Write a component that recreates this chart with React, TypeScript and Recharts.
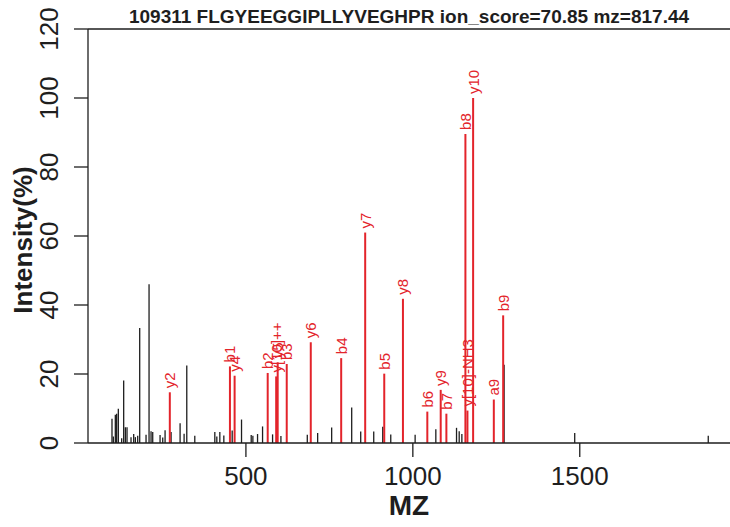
import { ComposedChart, Bar, XAxis, YAxis, ReferenceLine, LabelList } from 'recharts';

const TITLE = '109311 FLGYEEGGIPLLYVEGHPR ion_score=70.85 mz=817.44';

// unmatched peaks (black)
const PEAK_MZ = [
  99, 103, 109, 113, 118, 128, 134, 139, 144, 156, 164, 169, 176, 182, 201, 210, 216, 221,
  243, 251, 258, 276, 303, 315, 323, 347, 407, 413, 422, 434, 459, 487, 516, 521, 535, 550,
  580, 605, 684, 715, 757, 817, 844, 883, 910, 934, 1007, 1069, 1131, 1139, 1147, 1273.5, 1485, 1885,
];
const PEAK_INTENSITY = [
  7.0, 1.9, 8.2, 8.5, 9.9, 1.4, 18.1, 4.6, 4.6, 1.7, 2.6, 1.7, 2.1, 33.3, 2.4, 46.0, 3.4, 3.2,
  2.3, 1.6, 3.7, 3.2, 5.7, 2.7, 22.5, 2.1, 3.2, 1.9, 3.2, 2.2, 3.6, 6.8, 2.3, 2.1, 2.6, 4.8,
  2.5, 2.0, 2.4, 2.9, 4.5, 10.3, 3.3, 3.3, 4.7, 2.5, 2.4, 4.0, 4.4, 3.4, 2.6, 22.7, 2.9, 2.1,
];

// matched fragment ions (red)
const ION_MZ = [
  272.2, 452.3, 466.3, 565.4, 590.8, 595.3, 622.4, 694.4, 785.5, 857.4,
  914.5, 970.5, 1043.5, 1083.6, 1100.6, 1157.6, 1163.7, 1180.7, 1242.7, 1270.7,
];
const ION_INTENSITY = [
  14.7, 22.2, 19.5, 20.3, 19.3, 23.4, 22.9, 29.2, 24.6, 61.0,
  20.1, 41.8, 9.1, 15.4, 8.5, 89.6, 9.4, 100, 12.6, 37.0,
];
const ION_LABELS = [
  'y2', 'b1', 'y4', 'b2', 'y[10]++', 'y5', 'b3', 'y6', 'b4', 'y7',
  'b5', 'y8', 'b6', 'y9', 'b7', 'b8', 'y[10]-NH3', 'y10', 'a9', 'b9',
];

const X_TICKS = [500, 1000, 1500];
const Y_TICKS = [0, 20, 40, 60, 80, 100, 120];

const RED = '#e3242b';
const INK = '#1e1e1e';
const FONT = '"Liberation Sans", Arial, Helvetica, sans-serif';

const peaks = [
  ...PEAK_MZ.map((mz, i) => ({ mz, intensity: PEAK_INTENSITY[i], label: '' })),
  ...ION_MZ.map((mz, i) => ({ mz, intensity: ION_INTENSITY[i], label: ION_LABELS[i] })),
];

function Stick(props: any) {
  const { x, y, width, height, payload } = props;
  const ion = !!payload?.label;
  const cx = x + width / 2;
  return (
    <line x1={cx} x2={cx} y1={y} y2={y + height}
      stroke={ion ? RED : INK} strokeWidth={ion ? 2 : 1.3} />
  );
}

function IonLabel(props: any) {
  const vb = props.viewBox ?? {};
  const x = props.x ?? vb.x;
  const y = props.y ?? vb.y;
  const width = props.width ?? vb.width ?? 0;
  if (!props.value) return null;
  const cx = x + width / 2;
  const top = y - 4;
  return (
    <text x={cx} y={top} transform={`rotate(-90, ${cx}, ${top})`} textAnchor="start"
      dominantBaseline="central" fill={RED} fontSize={15} fontFamily={FONT}>
      {props.value}
    </text>
  );
}

function XTick({ x, y, payload }: any) {
  return (
    <text x={x} y={y} dy="0.71em" textAnchor="middle" fontSize={26} fill={INK} fontFamily={FONT}>
      {payload.value}
    </text>
  );
}

function YTick({ x, y, payload }: any) {
  return (
    <text x={x} y={y} transform={`rotate(-90, ${x}, ${y})`} textAnchor="middle"
      fontSize={26} fill={INK} fontFamily={FONT}>
      {payload.value}
    </text>
  );
}

export default function App() {
  return (
    <div style={{ position: 'absolute', left: 0, top: 0, width: 730, height: 527, background: '#fff', fontFamily: FONT }}>
      <div style={{ position: 'absolute', left: 88, top: 7, width: 642, textAlign: 'center', fontSize: 19, lineHeight: '19px', fontWeight: 700, color: INK }}>
        {TITLE}
      </div>
      <ComposedChart width={730} height={527} data={peaks} margin={{ top: 29, right: 0, bottom: 0, left: 0 }}>
        <XAxis dataKey="mz" type="number" domain={[27, 1950]} allowDataOverflow ticks={X_TICKS}
          height={84} tickSize={14} tickMargin={10} tick={<XTick />}
          axisLine={{ stroke: INK, strokeWidth: 1.3 }} tickLine={{ stroke: INK, strokeWidth: 1.3 }}
          label={{
            content: ({ viewBox }: any) => (
              <text x={viewBox.x + viewBox.width / 2} y={viewBox.y + 72} textAnchor="middle"
                fontSize={28} fontWeight={700} fill={INK} fontFamily={FONT}>MZ</text>
            ),
          }} />
        <YAxis type="number" domain={[0, 120]} ticks={Y_TICKS} width={88}
          tickSize={14} tickMargin={16} tick={<YTick />}
          axisLine={{ stroke: INK, strokeWidth: 1.3 }} tickLine={{ stroke: INK, strokeWidth: 1.3 }}
          label={{
            content: ({ viewBox }: any) => {
              const cx = viewBox.x + 23;
              const cy = viewBox.y + viewBox.height / 2 + 4;
              return (
                <text x={cx} y={cy} transform={`rotate(-90, ${cx}, ${cy})`} textAnchor="middle"
                  dominantBaseline="central" fontSize={26} fontWeight={700} fill={INK} fontFamily={FONT}>
                  Intensity(%)
                </text>
              );
            },
          }} />
        <ReferenceLine y={120} stroke={INK} strokeWidth={1.3} />
        <Bar dataKey="intensity" barSize={2} shape={<Stick />} isAnimationActive={false}>
          <LabelList dataKey="label" content={<IonLabel />} />
        </Bar>
      </ComposedChart>
    </div>
  );
}
